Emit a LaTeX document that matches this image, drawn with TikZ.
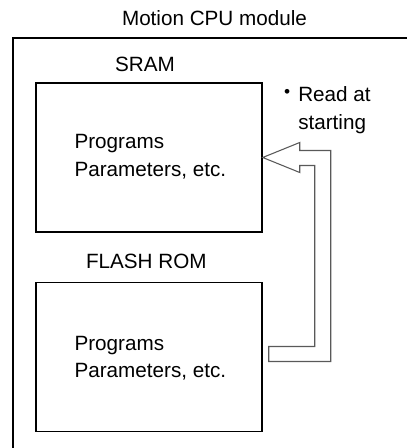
\documentclass[tikz,border=0pt]{standalone}
\usepackage{fontspec}
\setmainfont{Liberation Sans}
\usetikzlibrary{positioning}

\begin{document}
\begin{tikzpicture}[
    x=0.75pt, y=-0.75pt,
    every node/.style={font=\fontsize{15.5}{20.5}\selectfont,align=center,inner sep=0pt},
    frame/.style={draw,line width=1.1pt,minimum width=302pt,minimum height=330pt},
    mem/.style={draw,line width=1.1pt,minimum width=169.5pt,minimum height=111.75pt},
    memtext/.style={anchor=north west,align=left},
    hollow/.style={draw=black!65,line width=0.8pt}
]
\useasboundingbox (0,0) rectangle (406,448);
\node[frame] (cpu) at (214.5,258) {};
\node[above=8.25pt of cpu] (cputitle) {Motion CPU module};
\node[mem] (sram) at (149,157.5) {};
\node[mem,below=36.75pt of sram] (flash) {};
\node[above=7.5pt of sram,xshift=-3pt] (sramtitle) {SRAM};
\node[above=9.75pt of flash,xshift=-2pt] (flashtitle) {FLASH ROM};
\node[memtext] (sramtext) at ([shift={(39,52)}]sram.north west) {Programs\\Parameters, etc.};
\node[memtext] (flashtext) at ([shift={(39,54)}]flash.north west) {Programs\\Parameters, etc.};
\node[anchor=north west,align=left] (note) at (298,86.5) {\llap{\raisebox{3.2pt}{\fontsize{13}{13}\selectfont •}\hspace{6pt}}Read at\\starting};
% hollow arrow: read at starting
\draw[hollow] (sram.east) -- ++(37,-15) -- ++(0,8) -- ++(31,0) -- ++(0,211) -- ++(-62,0) -- ++(0,-15) -- ++(46,0) -- ++(0,-181) -- ++(-15,0) -- ++(0,7) -- cycle;
\end{tikzpicture}
\end{document}
